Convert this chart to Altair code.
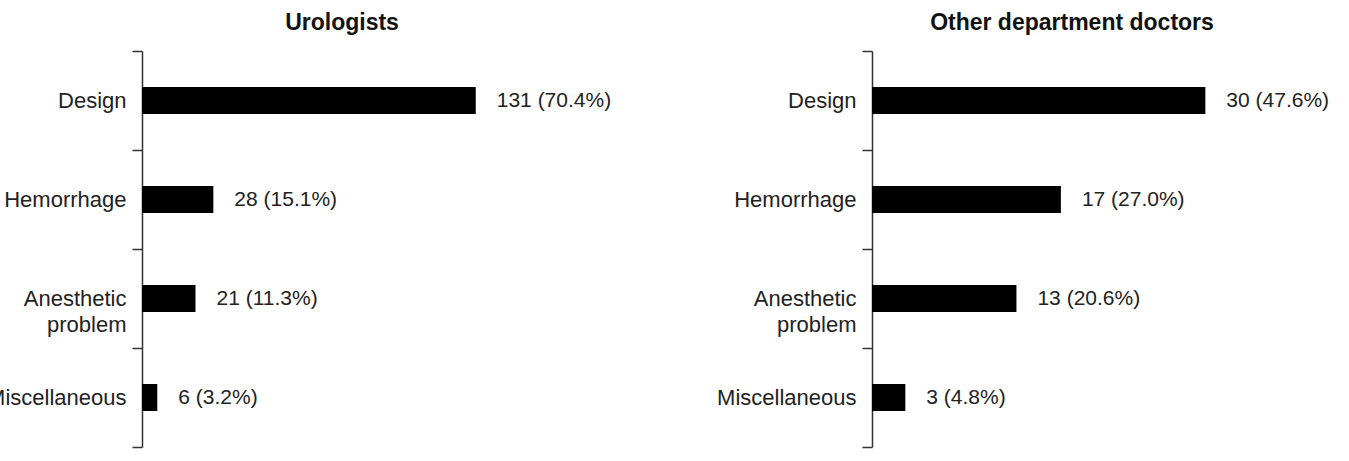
import altair as alt
import pandas as pd

categories = ["Design", "Hemorrhage", "Anesthetic problem", "Miscellaneous"]
uro_counts = [131, 28, 21, 6]
uro_pct = [70.4, 15.1, 11.3, 3.2]
other_counts = [30, 17, 13, 3]
other_pct = [47.6, 27.0, 20.6, 4.8]
titles = ["Urologists", "Other department doctors"]

FONT = "Liberation Sans"


def panel(counts, pcts, title, dmax):
    df = pd.DataFrame({
        "category": categories,
        "count": counts,
        "label": [f"{c} ({p:.1f}%)" for c, p in zip(counts, pcts)],
    })
    y = alt.Y(
        "category:N",
        sort=categories,
        scale=alt.Scale(paddingInner=0, paddingOuter=0),
        axis=alt.Axis(
            title=None,
            tickBand="extent",
            labelExpr="datum.label == 'Anesthetic problem' ? ['Anesthetic', 'problem'] : datum.label",
            labelFont=FONT,
            labelFontSize=22,
            labelColor="#222222",
            labelPadding=6,
            labelLineHeight=26,
            tickSize=10,
            tickWidth=1.5,
            tickColor="#333333",
            domainColor="#333333",
            domainWidth=1.5,
        ),
    )
    base = alt.Chart(df).encode(y=y)
    bars = base.mark_bar(color="black", size=27).encode(
        x=alt.X("count:Q", scale=alt.Scale(domain=[0, dmax], nice=False), axis=None)
    )
    text = base.mark_text(align="left", dx=21, font=FONT, fontSize=21, color="#222222").encode(
        x=alt.X("count:Q"), text="label:N"
    )
    return (bars + text).properties(
        width=400,
        height=396,
        title=alt.TitleParams(title, font=FONT, fontSize=23, fontWeight="bold",
                              anchor="middle", offset=5, color="#111111"),
    )


left = panel(uro_counts, uro_pct, titles[0], 157)
right = panel(other_counts, other_pct, titles[1], 36)

chart = alt.hconcat(left, right, spacing=330, bounds="flush").properties(
    padding={"left": -14, "top": 12, "right": 4, "bottom": 14},
    background="white",
).configure_view(stroke=None)

chart.save("out.html", embed_options={"renderer": "svg", "actions": False})
